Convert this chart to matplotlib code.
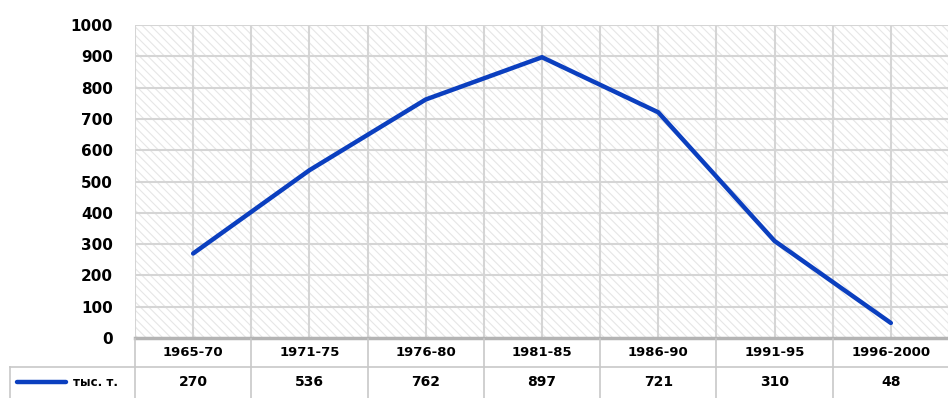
import matplotlib
matplotlib.use("Agg")
import matplotlib.pyplot as plt
from matplotlib.patches import Rectangle
from matplotlib.lines import Line2D

periods = ["1965-70", "1971-75", "1976-80", "1981-85", "1986-90", "1991-95", "1996-2000"]
values = [270, 536, 762, 897, 721, 310, 48]
series_name = "тыс. т."
y_ticks = [0, 100, 200, 300, 400, 500, 600, 700, 800, 900, 1000]

W, H = 948, 398
plt.rcParams["font.family"] = ["DejaVu Sans"]
plt.rcParams["hatch.color"] = "#e4e4e4"
plt.rcParams["hatch.linewidth"] = 0.8

fig = plt.figure(figsize=(W / 100, H / 100), dpi=100)
left, right, top, bottom = 135, 949, 25, 338
ax = fig.add_axes([left / W, 1 - bottom / H, (right - left) / W, (bottom - top) / H])

n = len(periods)
ax.set_xlim(-0.5, n - 0.5)
ax.set_ylim(0, 1000)

# textured background of the plot area
ax.add_patch(Rectangle((-0.5, 0), n, 1000, facecolor="white", edgecolor="#e6e6e6",
                       hatch="\\\\\\\\", lw=0, zorder=0))

# grid: every 100 on y, category edges and centres on x
for y in y_ticks[1:]:
    ax.axhline(y, color="#d5d5d5", lw=1.5, zorder=1)
for k in range(2 * n + 1):
    ax.axvline(-0.5 + 0.5 * k, color="#d5d5d5", lw=1.5, zorder=1)

ax.plot(range(n), values, color="#0b3fbf", lw=3.2, solid_capstyle="round",
        solid_joinstyle="miter", zorder=3)

for s in ax.spines.values():
    s.set_visible(False)
ax.set_xticks([])
ax.set_yticks(y_ticks)
ax.set_yticklabels([str(t) for t in y_ticks], fontsize=11, fontweight="bold")
ax.tick_params(axis="y", length=0, pad=16)

# bottom axis line
fig.add_artist(Line2D([left / W, 1], [1 - bottom / H] * 2, color="#b4b4b4", lw=2.5))

# data table under the chart
col_w = (right - left) / n
row1_y, row2_y = 352, 382
sep_y = 367
tc = "#c8c8c8"
fig.add_artist(Line2D([10 / W, 1], [1 - sep_y / H] * 2, color=tc, lw=1.2))
fig.add_artist(Line2D([10 / W, 10 / W], [1 - sep_y / H, 0], color=tc, lw=1.2))
for k in range(n):
    x0 = left + k * col_w
    fig.add_artist(Line2D([x0 / W, x0 / W], [1 - (bottom + 1) / H, 0], color=tc, lw=1.2))
    xc = (x0 + col_w / 2) / W
    fig.text(xc, 1 - row1_y / H, periods[k], ha="center", va="center",
             fontsize=9.5, fontweight="bold")
    fig.text(xc, 1 - row2_y / H, str(values[k]), ha="center", va="center",
             fontsize=10, fontweight="bold")

# legend key in the table's row header
fig.add_artist(Line2D([17 / W, 66 / W], [1 - row2_y / H] * 2, color="#0b3fbf", lw=3.2,
                      solid_capstyle="round"))
fig.text(73 / W, 1 - row2_y / H, series_name, ha="left", va="center",
         fontsize=8.5, fontweight="bold")

fig.savefig("out.png", dpi=100)
